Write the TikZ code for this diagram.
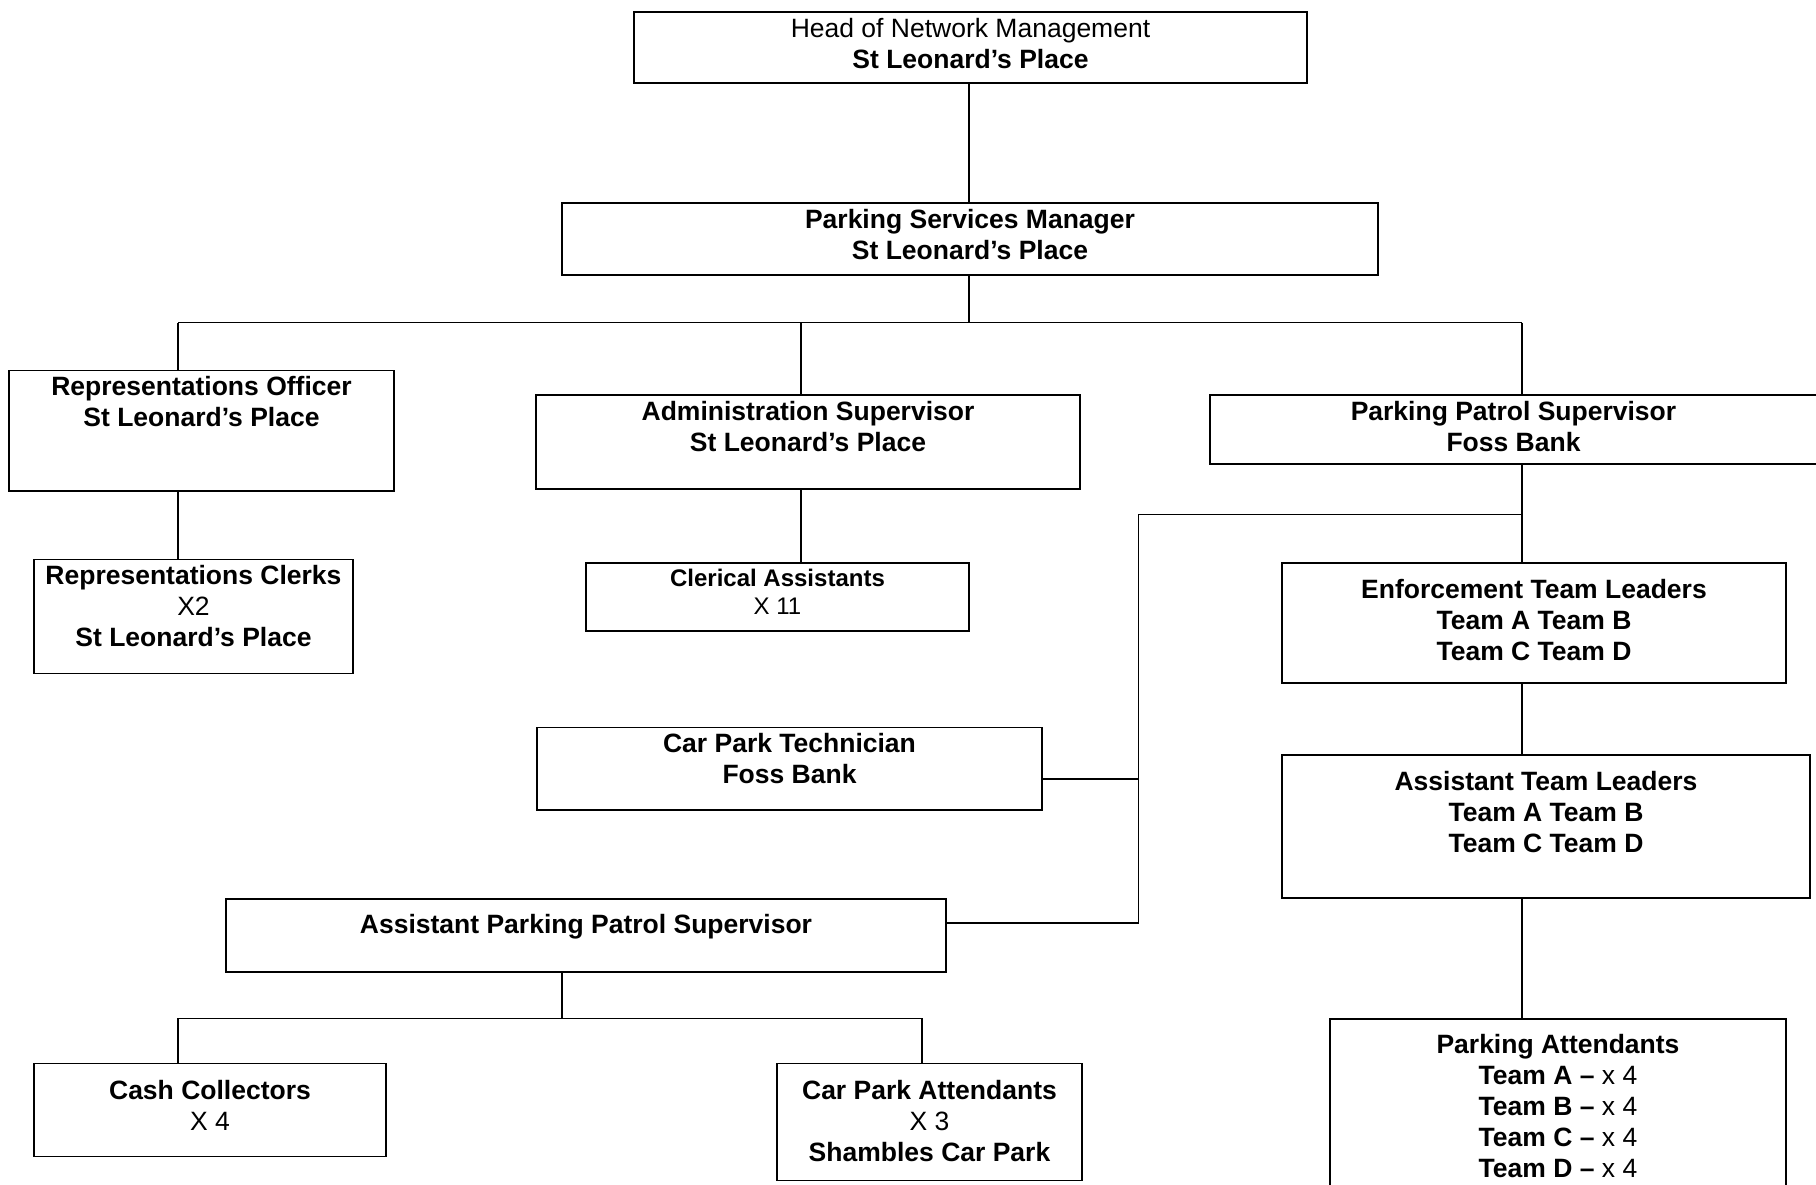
\documentclass[tikz,border=0pt]{standalone}
\usepackage{fontspec}
\setmainfont{Liberation Sans}
\newcommand\fsbig{\fontsize{26.5}{31}\selectfont}
\newcommand\fssmall{\fontsize{24}{27.8}\selectfont}
\tikzset{
  box/.style={draw, line width=1.8pt, inner sep=0pt, outer sep=0pt, anchor=north west},
  txt/.style={anchor=north, align=center, inner sep=0pt, font=\fsbig},
  conn/.style={line width=1.4pt},
}
\begin{document}
\begin{tikzpicture}[x=1pt,y=-1pt]
\clip (0,0) rectangle (1816,1184);
\fill[white] (0,0) rectangle (1816,1184);
% boxes
\node[box, minimum width=673, minimum height=71] (hd) at (634,11.6) {};
\node[box, minimum width=816, minimum height=72] (psm) at (562,203) {};
\node[box, minimum width=385, minimum height=120.5] (ro) at (9,370.5) {};
\node[box, minimum width=544, minimum height=94] (adm) at (536,395) {};
\node[box, minimum width=607, minimum height=69] (pps) at (1210,395) {};
\node[box, minimum width=319, minimum height=114] (rc) at (34,559.5) {};
\node[box, minimum width=383, minimum height=68] (cla) at (586,563.3) {};
\node[box, minimum width=504, minimum height=120] (etl) at (1282,563.3) {};
\node[box, minimum width=528, minimum height=143] (atl) at (1282,755.3) {};
\node[box, minimum width=505, minimum height=82.5] (cpt) at (537,727.5) {};
\node[box, minimum width=720, minimum height=73] (apps) at (226,898.6) {};
\node[box, minimum width=352, minimum height=93] (cc) at (34,1063.4) {};
\node[box, minimum width=305, minimum height=117] (cpa) at (777,1063.4) {};
\node[box, minimum width=456, minimum height=231] (pa) at (1330,1019) {};
% texts
\node[txt] (hdt) at ([yshift=-6]hd.north) {Head of Network Management\\\bfseries St Leonard's Place};
\node[txt, font=\fsbig\bfseries] (psmt) at ([yshift=-6]psm.north) {Parking Services Manager\\St Leonard’s Place};
\node[txt, font=\fsbig\bfseries] (rot) at ([yshift=-6]ro.north) {Representations Officer\\St Leonard’s Place};
\node[txt, font=\fsbig\bfseries] (admt) at ([yshift=-6]adm.north) {Administration Supervisor\\St Leonard’s Place};
\node[txt, font=\fsbig\bfseries] (ppst) at ([yshift=-6]pps.north) {Parking Patrol Supervisor\\Foss Bank};
\node[txt] (rct) at ([yshift=-6]rc.north) {\bfseries Representations Clerks\\X2\\\bfseries St Leonard’s Place};
\node[txt, font=\fssmall] (clat) at ([yshift=-6]cla.north) {\bfseries Clerical Assistants\\X 11};
\node[txt, font=\fsbig\bfseries] (etlt) at ([yshift=-15.5]etl.north) {Enforcement Team Leaders\\Team A Team B\\Team C Team D};
\node[txt, font=\fsbig\bfseries] (atlt) at ([yshift=-15.5]atl.north) {Assistant Team Leaders\\Team A Team B\\Team C Team D};
\node[txt, font=\fsbig\bfseries] (cptt) at ([yshift=-6]cpt.north) {Car Park Technician\\Foss Bank};
\node[txt, font=\fsbig\bfseries] (appst) at ([yshift=-15.5]apps.north) {Assistant Parking Patrol Supervisor};
\node[txt] (cct) at ([yshift=-16.5]cc.north) {\bfseries Cash Collectors\\X 4};
\node[txt] (cpat) at ([yshift=-16.5]cpa.north) {\bfseries Car Park Attendants\\X 3\\\bfseries Shambles Car Park};
\node[txt] (pat) at ([yshift=-15.5]pa.north) {\bfseries Parking Attendants\\\textbf{Team A –} x 4\\\textbf{Team B –} x 4\\\textbf{Team C –} x 4\\\textbf{Team D –} x 4};
% junction coordinates
\coordinate (busM) at (969,322.6);
\coordinate (busL) at (178,322.6);
\coordinate (busA) at (801,322.6);
\coordinate (busR) at (1522,322.6);
\coordinate (ppsJ) at (1522,514.7);
\coordinate (vL) at (1138.5,514.7);
\coordinate (vCpt) at (1138.5,778.8);
\coordinate (vApps) at (1138.5,922.8);
\coordinate (appsJ) at (562,1018.4);
\coordinate (lowL) at (178,1018.4);
\coordinate (lowR) at (922,1018.4);
% connectors
\draw[conn] (hd.south -| busM) -- (psm.north -| busM);
\draw[conn] (psm.south -| busM) -- (busM);
\draw[conn] (busL) -- (busR);
\draw[conn] (busL) -- (busL |- ro.north);
\draw[conn] (busA) -- (busA |- adm.north);
\draw[conn] (busR) -- (busR |- pps.north);
\draw[conn] (ro.south -| busL) -- (rc.north -| busL);
\draw[conn] (adm.south -| busA) -- (cla.north -| busA);
\draw[conn] (pps.south -| busR) -- (etl.north -| busR);
\draw[conn] (ppsJ) -- (vL) -- (vApps);
\draw[conn] (cpt.east |- vCpt) -- (vCpt);
\draw[conn] (apps.east |- vApps) -- (vApps);
\draw[conn] (etl.south -| busR) -- (atl.north -| busR);
\draw[conn] (atl.south -| busR) -- (pa.north -| busR);
\draw[conn] (apps.south -| appsJ) -- (appsJ);
\draw[conn] (lowL) -- (lowR);
\draw[conn] (lowL) -- (cc.north -| lowL);
\draw[conn] (lowR) -- (cpa.north -| lowR);
\end{tikzpicture}
\end{document}
